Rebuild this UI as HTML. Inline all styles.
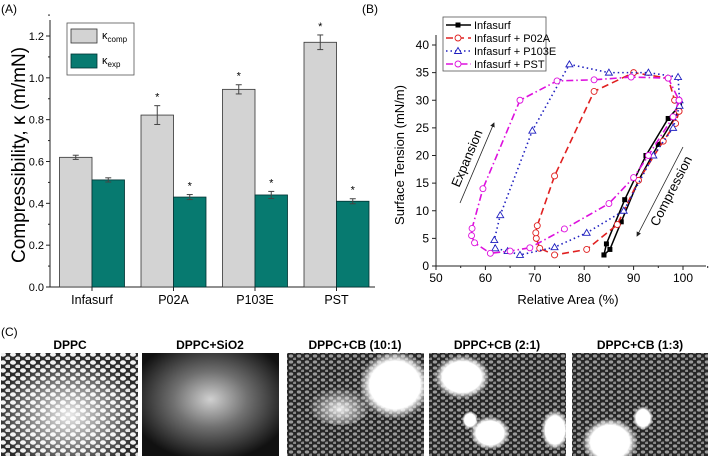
<!DOCTYPE html>
<html><head><meta charset="utf-8"><style>
html,body{margin:0;padding:0;background:#fff;}
svg{display:block;font-family:"Liberation Sans",Arial,sans-serif;}
</style></head><body>
<svg id="fig" width="710" height="456" viewBox="0 0 710 456" xmlns="http://www.w3.org/2000/svg">
<defs>
  <pattern id="dots" width="10" height="8" patternUnits="userSpaceOnUse">
    <rect width="10" height="8" fill="#2a2a2a"/>
    <ellipse cx="3" cy="2.5" rx="3" ry="2.2" fill="#f2f2f2"/>
    <ellipse cx="8" cy="6.5" rx="2.8" ry="2" fill="#e0e0e0"/>
  </pattern>
  <pattern id="dots2" width="8" height="6" patternUnits="userSpaceOnUse">
    <rect width="8" height="6" fill="#262626"/>
    <ellipse cx="3" cy="2" rx="2.2" ry="1.6" fill="#9a9a9a"/>
    <ellipse cx="7" cy="5" rx="2" ry="1.5" fill="#888"/>
  </pattern>
  <radialGradient id="glow" cx="50%" cy="60%" r="55%">
    <stop offset="0" stop-color="#fff" stop-opacity="0.9"/>
    <stop offset="0.5" stop-color="#fff" stop-opacity="0.45"/>
    <stop offset="1" stop-color="#fff" stop-opacity="0"/>
  </radialGradient>
  <radialGradient id="sio" cx="50%" cy="45%" r="60%">
    <stop offset="0" stop-color="#d0d0d0"/>
    <stop offset="0.45" stop-color="#707070"/>
    <stop offset="1" stop-color="#111"/>
  </radialGradient>
  <radialGradient id="blob" cx="50%" cy="50%" r="50%">
    <stop offset="0" stop-color="#fff"/>
    <stop offset="0.7" stop-color="#fff"/>
    <stop offset="1" stop-color="#fff" stop-opacity="0"/>
  </radialGradient>
  <marker id="arr" markerWidth="6" markerHeight="6" refX="5" refY="3" orient="auto"><path d="M0,0 L6,3 L0,6 z" fill="#222"/></marker>
</defs>

<text x="1" y="13" font-size="12">(A)</text>
<g id="chartA"></g>

<text x="362" y="13" font-size="12">(B)</text>
<g id="chartB"></g>

<text x="1" y="336" font-size="12">(C)</text>
<g>
  <text x="70" y="349" font-size="12" font-weight="bold" text-anchor="middle">DPPC</text>
  <g>
    <rect x="1" y="353" width="137" height="103" fill="url(#dots)"/>
    <rect x="1" y="353" width="137" height="103" fill="url(#glow)"/>
  </g>
  <text x="210" y="349" font-size="12" font-weight="bold" text-anchor="middle">DPPC+SiO2</text>
  <g>
    <rect x="142" y="353" width="137" height="103" fill="url(#sio)"/>
  </g>
  <text x="355" y="349" font-size="12" font-weight="bold" text-anchor="middle">DPPC+CB (10:1)</text>
  <g>
    <rect x="287" y="353" width="137" height="103" fill="url(#dots2)"/>
    <ellipse cx="395" cy="385" rx="36" ry="34" fill="url(#blob)"/>
    <ellipse cx="340" cy="405" rx="30" ry="20" fill="url(#glow)"/>
  </g>
  <text x="497" y="349" font-size="12" font-weight="bold" text-anchor="middle">DPPC+CB (2:1)</text>
  <g>
    <rect x="429" y="353" width="137" height="103" fill="url(#dots2)"/>
    <ellipse cx="462" cy="377" rx="28" ry="22" fill="url(#blob)"/>
    <ellipse cx="490" cy="433" rx="20" ry="17" fill="url(#blob)"/>
    <ellipse cx="555" cy="430" rx="14" ry="20" fill="url(#blob)"/>
    <ellipse cx="470" cy="420" rx="8" ry="9" fill="url(#blob)"/>
  </g>
  <text x="640" y="349" font-size="12" font-weight="bold" text-anchor="middle">DPPC+CB (1:3)</text>
  <g>
    <rect x="572" y="353" width="136" height="103" fill="url(#dots2)"/>
    <ellipse cx="610" cy="442" rx="28" ry="24" fill="url(#blob)"/>
    <ellipse cx="643" cy="418" rx="10" ry="12" fill="url(#blob)"/>
  </g>
</g>
</svg>
<script>
var NS="http://www.w3.org/2000/svg";
function mk(parent,tag,attrs,txt){var e=document.createElementNS(NS,tag);for(var k in attrs)e.setAttribute(k,attrs[k]);if(txt!==undefined)e.textContent=txt;parent.appendChild(e);return e;}

var categoriesA=["Infasurf","P02A","P103E","PST"];
var compVals=[0.62,0.822,0.945,1.17];
var compErr=[0.01,0.045,0.022,0.035];
var expVals=[0.512,0.43,0.44,0.41];
var expErr=[0.01,0.012,0.017,0.012];
var compStar=[false,true,true,true];
var expStar=[false,true,true,true];
var yTicksA=[0.0,0.2,0.4,0.6,0.8,1.0,1.2];

var xTicksB=[50,60,70,80,90,100];
var yTicksB=[0,5,10,15,20,25,30,35,40];
var infX=[84,84.5,88.2,92.5,97,99.3,99.1,95,91,87.5,85.2,84];
var infY=[2,4,12,20,26.7,29,28,22,15.5,8,3,2];
var p02aX=[99.2,98.5,96,91,86.7,80.5,74,71,70.3,70.2,70.5,74,82,90,97,98.3,99.2];
var p02aY=[28,25.8,22.6,15.5,7.5,3,2,3.2,5,6,7.3,16.3,31.6,35,34,30,28];
var p103eX=[99.3,98,94,88,80.5,74,67,64.5,62,61.8,63,69.5,77,85,93,99,99.3];
var p103eY=[29,25,20,10,6,3.4,2,2.7,3.2,4.7,9.2,24.5,36.5,35,35,34.2,30];
var pstX=[99.2,98,93,90,85,76,69,65,61,57.8,57.2,57.3,59.5,67,74.5,82,89.5,97,99.2];
var pstY=[30,27,20,16,11.3,6.7,3.3,2.7,2.3,4.2,5.5,6.8,14,30,33.5,33.7,34.2,34,30];

(function(){
  var g=document.getElementById('chartA');
  var L=50,T=20,B=287;
  function y(v){return B-v*(B-36)/1.2;}
  var step=81.5, x0=92, bw=32.5;
  function cx(i){return x0+i*step;}
  var ax=mk(g,'line',{x1:L,y1:T,x2:L,y2:B,stroke:'#222','stroke-width':1});
  
  var bx=mk(g,'line',{x1:L,y1:B,x2:375,y2:B,stroke:'#222','stroke-width':1});
  
  yTicksA.forEach(function(t){
    mk(g,'line',{x1:L-4,y1:y(t),x2:L,y2:y(t),stroke:'#222'});
    mk(g,'line',{x1:L-2,y1:y(t+0.1),x2:L,y2:y(t+0.1),stroke:'#222'});
    var tl=mk(g,'text',{x:L-6,y:y(t)+4,'font-size':11,'text-anchor':'end'},t.toFixed(1));
    
  });
  function star(xx,yy){var s=mk(g,'text',{x:xx,y:yy,'font-size':11,'text-anchor':'middle'},'*');}
  categoriesA.forEach(function(c,i){
    var xc=cx(i);
    mk(g,'line',{x1:xc,y1:B,x2:xc,y2:B+4,stroke:'#222'});
    var r1=mk(g,'rect',{x:xc-bw,y:y(compVals[i]),width:bw,height:B-y(compVals[i]),fill:'#d3d3d3',stroke:'#333','stroke-width':0.8});
    
    var r2=mk(g,'rect',{x:xc,y:y(expVals[i]),width:bw,height:B-y(expVals[i]),fill:'#077a70',stroke:'#033','stroke-width':0.8});
    
    [[xc-bw/2,compVals[i],compErr[i]],[xc+bw/2,expVals[i],expErr[i]]].forEach(function(e){
      mk(g,'line',{x1:e[0],y1:y(e[1]-e[2]),x2:e[0],y2:y(e[1]+e[2]),stroke:'#444'});
      mk(g,'line',{x1:e[0]-3,y1:y(e[1]+e[2]),x2:e[0]+3,y2:y(e[1]+e[2]),stroke:'#444'});
      mk(g,'line',{x1:e[0]-3,y1:y(e[1]-e[2]),x2:e[0]+3,y2:y(e[1]-e[2]),stroke:'#444'});
    });
    if(compStar[i])star(xc-bw/2,y(compVals[i]+compErr[i])-5);
    if(expStar[i])star(xc+bw/2,y(expVals[i]+expErr[i])-5);
    var lab=mk(g,'text',{x:xc,y:B+17,'font-size':12.5,'text-anchor':'middle'},c);
    
  });
  var yl=mk(g,'text',{x:0,y:0,'font-size':19,'text-anchor':'middle',transform:'translate(25,155) rotate(-90)'},'Compressibility, κ (m/mN)');
  
  var lg=mk(g,'g',{});
  
  mk(lg,'rect',{x:67,y:23,width:67,height:52,fill:'#fff',stroke:'#555','stroke-width':0.8});
  mk(lg,'rect',{x:71,y:29,width:26,height:14,fill:'#d3d3d3',stroke:'#333','stroke-width':0.8});
  mk(lg,'rect',{x:71,y:54,width:26,height:14,fill:'#077a70',stroke:'#033','stroke-width':0.8});
  var t1=mk(lg,'text',{x:102,y:39,'font-size':11},'κ');mk(t1,'tspan',{'font-size':8,dy:3},'comp');
  
  var t2=mk(lg,'text',{x:102,y:64,'font-size':11},'κ');mk(t2,'tspan',{'font-size':8,dy:3},'exp');
  
})();

(function(){
  var g=document.getElementById('chartB');
  var B=266;
  function x(v){return 436+(v-50)*(683-436)/50;}
  function y(v){return B-v*(266-45)/40;}
  var ax=mk(g,'line',{x1:436,y1:35,x2:436,y2:B,stroke:'#222'});
  
  var bx=mk(g,'line',{x1:436,y1:B,x2:706,y2:B,stroke:'#222'});
  
  xTicksB.forEach(function(t){
    mk(g,'line',{x1:x(t),y1:B,x2:x(t),y2:B+4,stroke:'#222'});
    mk(g,'line',{x1:x(t+5),y1:B,x2:x(t+5),y2:B+2,stroke:'#222'});
    var tl=mk(g,'text',{x:x(t),y:B+16,'font-size':12,'text-anchor':'middle'},t);
    
  });
  yTicksB.forEach(function(t){
    mk(g,'line',{x1:432,y1:y(t),x2:436,y2:y(t),stroke:'#222'});
    var tl=mk(g,'text',{x:429,y:y(t)+4,'font-size':12,'text-anchor':'end'},t);
    
  });
  var xl=mk(g,'text',{x:568,y:304,'font-size':13,'text-anchor':'middle'},'Relative Area (%)');
  
  var yl=mk(g,'text',{x:0,y:0,'font-size':13,'text-anchor':'middle',transform:'translate(404,155) rotate(-90)'},'Surface Tension (mN/m)');
  

  var series=[
    {n:'infasurf',xs:infX,ys:infY,c:'#000',d:'',m:'sq'},
    {n:'p02a',xs:p02aX,ys:p02aY,c:'#e02020',d:'7,4',m:'circ'},
    {n:'p103e',xs:p103eX,ys:p103eY,c:'#2020c0',d:'1.5,3',m:'tri'},
    {n:'pst',xs:pstX,ys:pstY,c:'#dd10dd',d:'7,3,1.5,3',m:'circ'}
  ];
  function marker(p,m,c,px,py){
    var e;
    if(m==='sq')e=mk(p,'rect',{x:px-2.5,y:py-2.5,width:5,height:5,fill:c});
    else if(m==='circ')e=mk(p,'circle',{cx:px,cy:py,r:3,fill:'#fff',stroke:c,'stroke-width':0.9});
    else e=mk(p,'path',{d:'M'+px+','+(py-3.5)+' L'+(px+3.5)+','+(py+2.5)+' L'+(px-3.5)+','+(py+2.5)+' Z',fill:'#fff',stroke:c,'stroke-width':0.9});
    return e;
  }
  series.forEach(function(s){
    var sg=mk(g,'g',{});
    
    var pts=s.xs.map(function(v,i){return x(v)+','+y(s.ys[i]);}).join(' ');
    var pl=mk(sg,'polyline',{points:pts,fill:'none',stroke:s.c,'stroke-width':s.n==='infasurf'?1.5:1.6,'stroke-dasharray':s.d});
    
    s.xs.forEach(function(v,i){
      var mm=marker(sg,s.m,s.c,x(v),y(s.ys[i]));
      
    });
  });
  var a1=mk(g,'line',{x1:460,y1:203,x2:494,y2:123,stroke:'#222','stroke-width':0.8,'marker-end':'url(#arr)'});
  
  var t1=mk(g,'text',{x:0,y:0,'font-size':13,'text-anchor':'middle',transform:'translate(471,160) rotate(-67)'},'Expansion');
  
  var a2=mk(g,'line',{x1:683,y1:147,x2:637,y2:236,stroke:'#222','stroke-width':0.8,'marker-end':'url(#arr)'});
  
  var t2=mk(g,'text',{x:0,y:0,'font-size':13,'text-anchor':'middle',transform:'translate(675,193) rotate(-63)'},'Compression');
  
  var lg=mk(g,'g',{});
  
  mk(lg,'rect',{x:443,y:17,width:103,height:54,fill:'#fff',stroke:'#555','stroke-width':0.8});
  var names=['Infasurf','Infasurf + P02A','Infasurf + P103E','Infasurf + PST'];
  series.forEach(function(s,i){
    var ly=25+i*13;
    var eg=mk(lg,'g',{});
    
    mk(eg,'line',{x1:446,y1:ly,x2:471,y2:ly,stroke:s.c,'stroke-width':1.5,'stroke-dasharray':s.d});
    marker(eg,s.m,s.c,458,ly);
    mk(eg,'text',{x:474,y:ly+4,'font-size':11},names[i]);
  });
})();
</script>
</body></html>
